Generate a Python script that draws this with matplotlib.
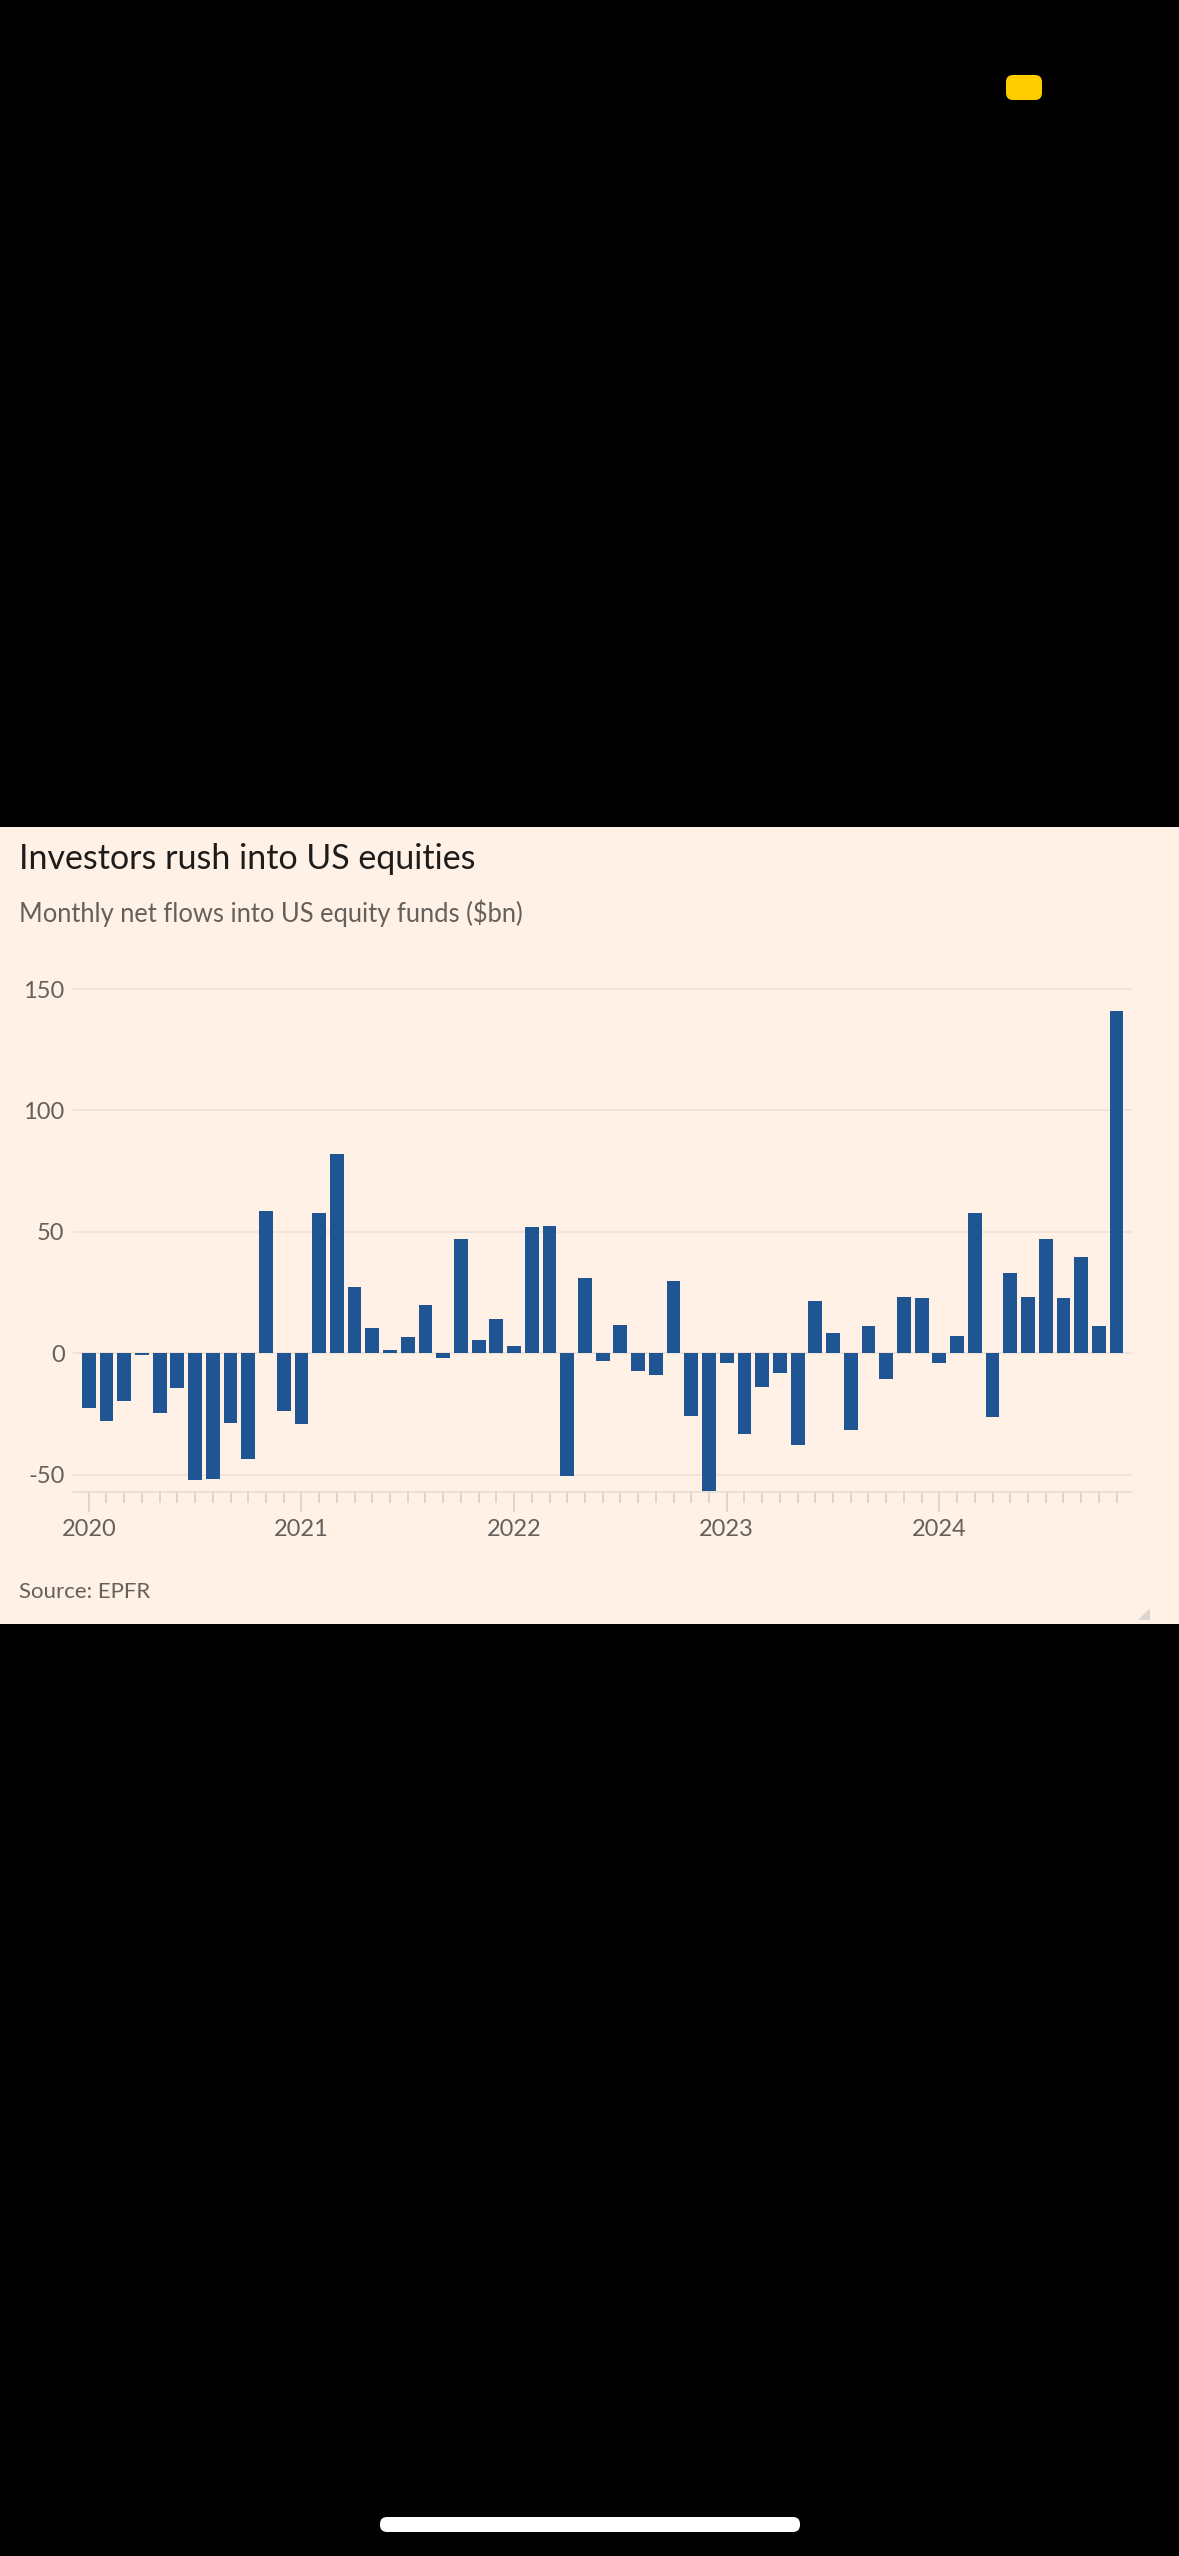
import matplotlib
matplotlib.use("Agg")
import matplotlib.pyplot as plt
from matplotlib.patches import FancyBboxPatch, Rectangle, Polygon
import numpy as np
import pandas as pd

# monthly net flows into US equity funds, $bn (Jan 2020 - Nov 2024)
months = pd.date_range("2020-01-01", "2024-11-01", freq="MS")
flows = [
    -22.7, -27.9, -19.5, -0.5, -24.4, -14.2, -52.3, -51.8, -28.6, -43.4, 58.6, -23.9,   # 2020
    -29.0, 57.9, 82.0, 27.1, 10.4, 1.3, 6.9, 20.0, -1.9, 46.9, 5.5, 14.2,               # 2021
    3.1, 51.9, 52.3, -50.7, 31.2, -3.1, 11.5, -7.4, -9.0, 29.9, -25.8, -56.7,           # 2022
    -3.8, -33.4, -13.7, -8.2, -37.8, 21.7, 8.5, -31.5, 11.2, -10.6, 23.3, 22.7,         # 2023
    -3.8, 7.1, 57.9, -26.4, 33.2, 23.0, 46.9, 22.7, 39.8, 11.3, 141.0,                  # 2024
]
yticks = [-50, 0, 50, 100, 150]

W, H = 1179, 2556
BG = "#FFF1E5"
BAR = "#1f5592"
GREY = "#66605c"

plt.rcParams["font.family"] = ["Lato", "DejaVu Sans"]

fig = plt.figure(figsize=(W / 100, H / 100), dpi=100, facecolor="black")


def fx(px):
    return px / W


def fy(py):
    return 1 - py / H


# chart panel (behind the axes)
fig.patches.append(Rectangle((0, fy(1623.5)), 1, (1623.5 - 826.5) / H, zorder=-10,
                             transform=fig.transFigure, facecolor=BG, edgecolor="none"))

ax = fig.add_axes([fx(73), fy(1491.7), fx(1132 - 73), (1491.7 - 976.9) / H])
ax.set_facecolor("none")

x = np.arange(len(flows))
ax.bar(x, flows, width=0.78, color=BAR, zorder=3)

ax.set_xlim(-0.89, 58.87)
ax.set_ylim(-57, 155)

ax.set_yticks(yticks)
ax.set_yticklabels([str(v) for v in yticks])
ax.yaxis.grid(True, color="#f1e3d7", lw=1.4)
ax.set_axisbelow(True)
ax.tick_params(axis="y", length=0, pad=6, labelsize=17, labelcolor=GREY)

year_pos = [i for i, m in enumerate(months) if m.month == 1]
ax.set_xticks(year_pos)
ax.set_xticklabels([str(months[i].year) for i in year_pos])
ax.set_xticks([i for i in x if i not in year_pos], minor=True)
ax.tick_params(axis="x", which="major", length=14.5, width=1.1, color="#d8cdc3",
               pad=5, labelsize=17, labelcolor=GREY)
ax.tick_params(axis="x", which="minor", length=8, width=1.1, color="#d8cdc3")

for s in ["top", "right", "left"]:
    ax.spines[s].set_visible(False)
ax.spines["bottom"].set_color("#e6dbd1")
ax.spines["bottom"].set_linewidth(1.1)

fig.text(fx(19), fy(869), "Investors rush into US equities", fontsize=24.5,
         color="#1e1c1b", va="baseline", ha="left")
fig.text(fx(19), fy(921.7), "Monthly net flows into US equity funds ($bn)", fontsize=18.4,
         color=GREY, va="baseline", ha="left")
fig.text(fx(19), fy(1591.5), "Source: EPFR", fontsize=16, color=GREY, va="center", ha="left")

# resize grip in the panel corner
fig.patches.append(Polygon([(fx(1150), fy(1608)), (fx(1150), fy(1620)), (fx(1138), fy(1620))],
                           closed=True, transform=fig.transFigure, facecolor="#ddd6d0",
                           edgecolor="none"))

# phone status / home indicators
fig.patches.append(FancyBboxPatch((fx(1006), fy(100)), fx(36), 25 / H,
                                  boxstyle="round,pad=0,rounding_size=0.006",
                                  transform=fig.transFigure, facecolor="#ffcc00",
                                  edgecolor="none", mutation_aspect=W / H))
fig.patches.append(FancyBboxPatch((fx(380), fy(2532)), fx(420), 15 / H,
                                  boxstyle="round,pad=0,rounding_size=0.006",
                                  transform=fig.transFigure, facecolor="white",
                                  edgecolor="none", mutation_aspect=W / H))

fig.savefig("out.png", dpi=100, facecolor="black")
